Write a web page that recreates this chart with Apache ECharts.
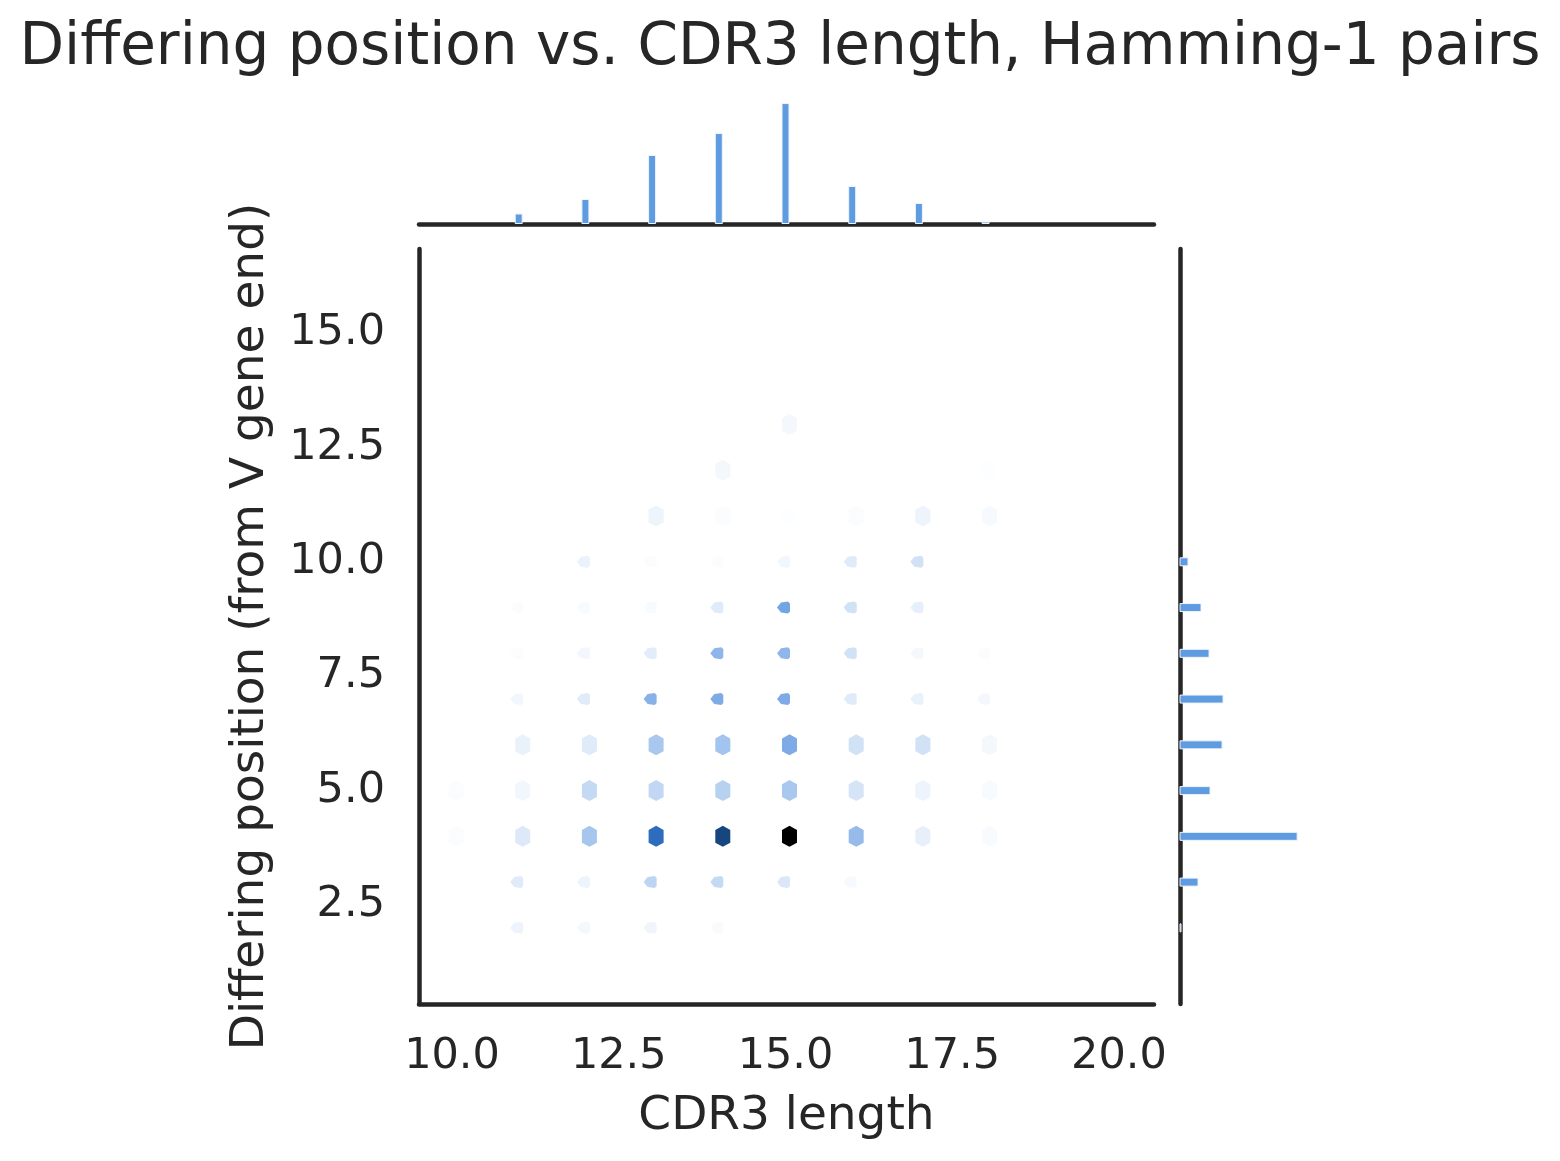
<!DOCTYPE html>
<html>
<head>
<meta charset="utf-8">
<title>Differing position vs. CDR3 length, Hamming-1 pairs</title>
<script src="https://cdn.jsdelivr.net/npm/echarts@6/dist/echarts.min.js"></script>
<style>
  html, body { margin: 0; padding: 0; background: #fff; }
  #chart { width: 1560px; height: 1161px; }
</style>
</head>
<body>
<div id="chart"></div>
<script>
// hex columns (CDR3 length) and hex rows (differing position)
var cdr3Lengths = [10, 11, 12, 13, 14, 15, 16, 17, 18];
var diffPositions = [2, 3, 4, 5, 6, 7, 8, 9, 10, 11, 12, 13];

// hexbin counts, one row per differing position, one column per CDR3 length
var hexCounts = [
    [0, 8, 5, 7, 3, 0, 0, 0, 0],
    [0, 14, 8, 26, 24, 16, 4, 0, 0],
    [2, 15, 33, 65, 80, 100, 38, 11, 3],
    [2, 6, 24, 25, 28, 32, 18, 8, 3],
    [0, 10, 14, 32, 34, 45, 20, 20, 5],
    [0, 6, 14, 42, 45, 45, 14, 10, 5],
    [0, 2, 6, 13, 40, 40, 20, 5, 2],
    [0, 2, 3, 3, 14, 48, 20, 11, 0],
    [0, 0, 9, 2, 2, 6, 14, 20, 0],
    [0, 0, 0, 8, 2, 1, 2, 8, 4],
    [0, 0, 0, 0, 5, 0, 0, 0, 1],
    [0, 0, 0, 0, 0, 5, 0, 0, 0]
];

// marginal histograms
var lengthBins = [11, 12, 13, 14, 15, 16, 17, 18];
var lengthCounts = [42, 100, 276, 364, 484, 152, 84, 10];
var positionBins = [2, 3, 4, 5, 6, 7, 8, 9, 10];
var positionCounts = [4, 72, 468, 120, 168, 172, 116, 84, 32];

// tick labels
var xTicks = [10, 12.5, 15, 17.5, 20];
var yTicks = [2.5, 5, 7.5, 10, 12.5, 15];

var FONT = 'DejaVu Sans';
var INK = '#262626';
var BAR = '#5f9be1';
var X_MIN = 9.505, X_MAX = 20.525;
var Y_MIN = 0.336, Y_MAX = 16.836;
// rows where the hex cell shows whole, the others come out clipped
var fullRows = [4, 5, 6, 11, 12, 13];

var fullHex = 'path://M0,-10 L7,-6 L7,6 L0,10 L-7,6 L-7,-6 Z';
var clipHex = 'path://M-7,0 L-3,-5 L4,-6 L6,-4 L6,4 L4,6 L-3,5 Z';

var fullCells = [], clipCells = [];
hexCounts.forEach(function (row, i) {
    row.forEach(function (c, j) {
        if (c <= 0) return;
        var cell = [cdr3Lengths[j], diffPositions[i], c];
        if (fullRows.indexOf(diffPositions[i]) >= 0) fullCells.push(cell);
        else clipCells.push(cell);
    });
});

var lengthData = lengthBins.map(function (b, i) { return [b, lengthCounts[i]]; });
var positionData = positionBins.map(function (b, i) { return [positionCounts[i], b]; });
var lengthMax = Math.max.apply(null, lengthCounts) * 1.05;
var positionMax = Math.max.apply(null, positionCounts) * 1.05;

var spine = { show: true, onZero: false, lineStyle: { color: INK, width: 4.5 } };

var myChart = echarts.init(document.getElementById('chart'));
myChart.setOption({
    backgroundColor: '#ffffff',
    animation: false,
    title: {
        text: 'Differing position vs. CDR3 length, Hamming-1 pairs',
        left: 'center',
        top: 15,
        textStyle: { fontFamily: FONT, fontSize: 58, fontWeight: 'normal', color: INK }
    },
    grid: [
        { left: 419, right: 406, top: 249, bottom: 157 },
        { left: 419, right: 406, top: 97, bottom: 937 },
        { left: 1180, width: 123, top: 249, bottom: 157 }
    ],
    visualMap: {
        show: false,
        type: 'continuous',
        seriesIndex: [0, 1],
        dimension: 2,
        min: 0,
        max: 100,
        inRange: {
            color: ['#ffffff', '#e9f1fb', '#d1e1f6', '#b0cdf0', '#8fb6ea', '#6c9fe2',
                    '#3a78cc', '#2160b0', '#17467f', '#0c2644', '#000000']
        }
    },
    xAxis: [
        {
            gridIndex: 0, type: 'value', min: X_MIN, max: X_MAX,
            axisLine: spine, axisTick: { show: false }, splitLine: { show: false },
            axisLabel: {
                customValues: xTicks,
                formatter: function (v) { return v.toFixed(1); },
                fontFamily: FONT, fontSize: 43, color: INK, margin: 31
            },
            name: 'CDR3 length', nameLocation: 'middle', nameGap: 89,
            nameTextStyle: { fontFamily: FONT, fontSize: 47, color: INK }
        },
        {
            gridIndex: 1, type: 'value', min: X_MIN, max: X_MAX,
            axisLine: spine, axisTick: { show: false }, splitLine: { show: false },
            axisLabel: { show: false }
        },
        {
            gridIndex: 2, type: 'value', min: 0, max: positionMax, show: false
        }
    ],
    yAxis: [
        {
            gridIndex: 0, type: 'value', min: Y_MIN, max: Y_MAX,
            axisLine: spine, axisTick: { show: false }, splitLine: { show: false },
            axisLabel: {
                customValues: yTicks,
                formatter: function (v) { return v.toFixed(1); },
                fontFamily: FONT, fontSize: 43, color: INK, margin: 34
            },
            name: 'Differing position (from V gene end)', nameLocation: 'middle', nameGap: 145,
            nameTextStyle: { fontFamily: FONT, fontSize: 47, color: INK }
        },
        {
            gridIndex: 1, type: 'value', min: 0, max: lengthMax, show: false
        },
        {
            gridIndex: 2, type: 'value', min: Y_MIN, max: Y_MAX,
            axisLine: spine, axisTick: { show: false }, splitLine: { show: false },
            axisLabel: { show: false }
        }
    ],
    series: [
        {
            type: 'scatter', xAxisIndex: 0, yAxisIndex: 0,
            symbol: fullHex, symbolSize: [15, 21], symbolOffset: [4, 0],
            itemStyle: { opacity: 1 },
            data: fullCells
        },
        {
            type: 'scatter', xAxisIndex: 0, yAxisIndex: 0,
            symbol: clipHex, symbolSize: [13, 12], symbolOffset: [-2, 0],
            itemStyle: { opacity: 1 },
            data: clipCells
        },
        {
            type: 'bar', xAxisIndex: 1, yAxisIndex: 1,
            barWidth: 8,
            itemStyle: { color: BAR, borderColor: '#eef4fc', borderWidth: 1 },
            data: lengthData
        },
        {
            type: 'custom', xAxisIndex: 2, yAxisIndex: 2,
            encode: { x: 0, y: 1 },
            renderItem: function (params, api) {
                var start = api.coord([0, api.value(1)]);
                var end = api.coord([api.value(0), api.value(1)]);
                return {
                    type: 'rect',
                    shape: { x: start[0], y: start[1] - 4, width: end[0] - start[0], height: 8 },
                    style: { fill: BAR, stroke: '#eef4fc', lineWidth: 1 }
                };
            },
            data: positionData
        }
    ]
});
</script>
</body>
</html>
